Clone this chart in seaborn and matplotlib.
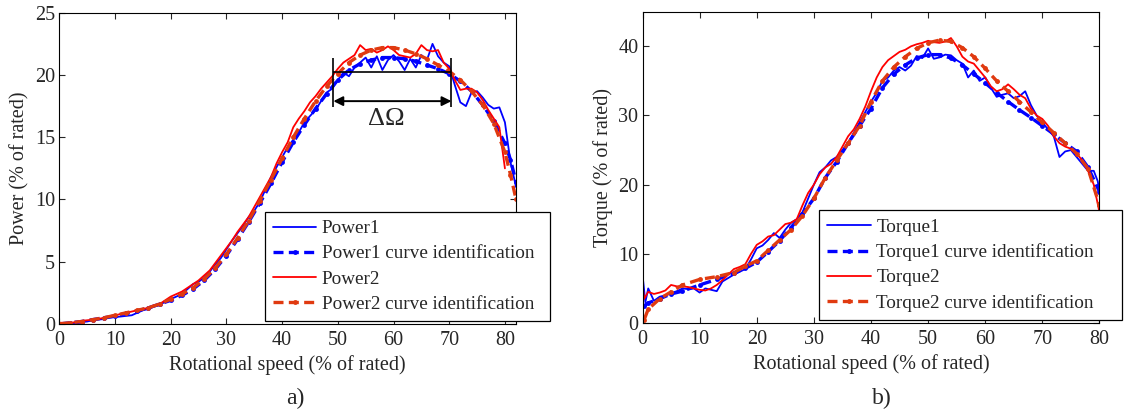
import numpy as np
import pandas as pd
import matplotlib
matplotlib.use('Agg')
import matplotlib.pyplot as plt
import seaborn as sns

# ---- panel a) power ----
speed_p = list(range(0, 83))
power1 = [0.1, 0.05, 0.0, 0.0, 0.15, 0.2, 0.3, 0.35, 0.4, 0.5,
          0.55, 0.6, 0.65, 0.7, 0.9, 1.1, 1.2, 1.4, 1.5, 1.8,
          2.0, 2.2, 2.4, 2.8, 3.2, 3.4, 3.7, 4.2, 4.8, 5.3,
          6.0, 6.7, 7.3, 7.9, 8.6, 9.1, 9.8, 10.8, 11.8, 12.6,
          13.4, 14.2, 14.8, 15.4, 16.2, 16.7, 17.2, 17.9, 18.6, 18.9,
          19.6, 20.2, 19.9, 20.6, 21.0, 21.4, 20.6, 21.5, 20.4, 21.2,
          21.6, 21.1, 20.4, 21.3, 20.6, 21.6, 21.2, 22.5, 21.5, 21.0,
          20.7, 19.2, 17.8, 17.5, 18.6, 18.7, 18.2, 17.6, 17.3, 17.4,
          16.2, 13.0, 11.0]
speed_p2 = list(range(0, 81))
power2 = [0.1, 0.1, 0.1, 0.15, 0.25, 0.3, 0.35, 0.4, 0.5, 0.6,
          0.7, 0.8, 0.9, 1.0, 1.1, 1.2, 1.3, 1.5, 1.6, 1.9,
          2.2, 2.4, 2.6, 2.9, 3.2, 3.5, 3.9, 4.3, 4.9, 5.5,
          6.1, 6.7, 7.4, 8.0, 8.6, 9.4, 10.2, 11.0, 11.8, 12.9,
          13.8, 14.6, 15.8, 16.5, 17.1, 17.8, 18.3, 18.9, 19.4, 19.9,
          20.5, 21.0, 21.3, 21.6, 22.4, 22.0, 22.1, 21.8, 22.0, 22.3,
          22.0, 21.6, 21.5, 21.4, 21.7, 22.4, 22.0, 21.9, 22.0, 21.0,
          20.5, 19.6, 18.8, 18.9, 18.9, 18.6, 18.0, 17.2, 16.5, 15.8,
          12.5]
speed_fit_p = [0, 2, 4, 6, 8, 10, 12, 14, 16, 18, 20, 22, 24, 26, 28, 30, 32, 34, 36, 38,
               40, 42, 44, 46, 48, 50, 52, 54, 56, 58, 60, 62, 64, 66, 68, 70, 72, 74, 76, 78,
               80, 81, 82]
power1_fit = [0.0, 0.1, 0.2, 0.35, 0.5, 0.65, 0.85, 1.05, 1.3, 1.6, 1.9, 2.3, 2.8, 3.5, 4.4,
              5.5, 6.8, 8.2, 9.7, 11.3, 13.0, 14.6, 16.0, 17.3, 18.5, 19.6, 20.4, 20.9, 21.2,
              21.4, 21.4, 21.3, 21.1, 20.8, 20.5, 20.1, 19.5, 18.7, 17.6, 16.3, 14.5, 13.2, 11.4]
power2_fit = [0.0, 0.1, 0.2, 0.35, 0.5, 0.7, 0.9, 1.1, 1.3, 1.6, 2.0, 2.4, 2.9, 3.6, 4.5,
              5.6, 6.9, 8.3, 9.9, 11.6, 13.3, 15.0, 16.5, 17.9, 19.1, 20.1, 21.0, 21.6, 22.0,
              22.2, 22.2, 22.0, 21.7, 21.3, 20.8, 20.3, 19.6, 18.7, 17.6, 16.1, 13.8, 12.0, 10.0]

# delta omega marker
delta_lo, delta_hi, delta_level, delta_arrow = 49.2, 70.4, 20.26, 17.9

# ---- panel b) torque ----
speed_t1 = [0, 0.5, 1, 2, 3, 4, 5, 6, 7, 8, 9, 10, 11, 12, 13, 14, 15, 16, 17, 18, 19,
            20, 21, 22, 23, 24, 25, 26, 27, 28, 29, 30, 31, 32, 33, 34, 35, 36, 37, 38, 39,
            40, 41, 42, 43, 44, 45, 46, 47, 48, 49, 50, 51, 52, 53, 54, 55, 56, 57, 58, 59,
            60, 61, 62, 63, 64, 65, 66, 67, 68, 69, 70, 71, 72, 73, 74, 75, 76, 77, 78, 79,
            79.7, 80]
torque1 = [7.0, 3.0, 5.0, 3.2, 3.8, 4.0, 4.3, 4.6, 5.0, 4.9, 5.0, 4.4, 5.0, 4.8, 4.6, 6.0,
           6.5, 7.0, 7.4, 7.8, 9.2, 10.8, 11.2, 12.0, 13.0, 12.3, 13.5, 14.5, 15.0, 16.0,
           18.0, 20.0, 21.8, 22.5, 23.5, 24.0, 25.0, 26.0, 27.5, 29.0, 30.5, 32.0, 33.3,
           35.0, 35.5, 36.5, 37.0, 36.5, 37.2, 38.6, 38.3, 39.7, 38.2, 38.4, 38.8, 38.7,
           38.0, 37.5, 35.5, 36.5, 35.0, 35.5, 34.0, 32.7, 33.0, 33.2, 32.5, 32.8, 33.5,
           31.5, 30.0, 29.0, 28.0, 27.0, 24.0, 24.8, 25.0, 24.0, 23.0, 22.0, 22.0, 20.5, 19.0]
speed_t2 = [0, 0.3, 1, 2, 3, 4, 5, 6, 7, 8, 9, 10, 11, 12, 13, 14, 15, 16, 17, 18, 19,
            20, 21, 22, 23, 24, 25, 26, 27, 28, 29, 30, 31, 32, 33, 34, 35, 36, 37, 38, 39,
            40, 41, 42, 43, 44, 45, 46, 47, 48, 49, 50, 51, 52, 53, 54, 55, 56, 57, 58, 59,
            60, 61, 62, 63, 64, 65, 66, 67, 68, 69, 70, 71, 72, 73, 74, 75, 76, 77, 78, 79, 80]
torque2 = [5.5, 3.5, 4.5, 4.2, 4.4, 4.7, 5.5, 5.3, 5.3, 5.2, 5.0, 4.8, 4.7, 5.0, 5.5, 6.2,
           7.0, 7.8, 8.1, 8.5, 10.0, 11.3, 11.8, 12.5, 12.7, 13.5, 14.3, 14.5, 15.0, 17.0,
           18.8, 20.0, 21.5, 22.5, 23.0, 24.0, 25.5, 27.0, 28.0, 29.5, 31.3, 33.5, 35.5,
           37.0, 38.0, 38.6, 39.2, 39.5, 40.0, 40.3, 40.5, 40.8, 40.6, 40.5, 40.7, 41.2,
           40.0, 38.5, 37.8, 37.5, 36.5, 35.5, 34.2, 33.5, 33.8, 34.5, 33.8, 33.0, 32.5,
           31.0, 30.0, 29.5, 28.5, 27.0, 26.0, 25.5, 25.2, 24.5, 23.5, 22.0, 20.0, 16.0]
speed_fit_t = [0.3, 1, 3, 5, 7, 10, 13, 16, 18, 20, 22, 24, 26, 28, 30, 32, 34, 36, 38,
               40, 42, 44, 46, 48, 50, 52, 54, 56, 58, 60, 62, 64, 66, 68, 70, 72, 74, 76,
               78, 80]
torque1_fit = [2.5, 2.9, 3.5, 4.2, 4.6, 5.5, 6.3, 7.2, 7.9, 8.8, 10.3, 11.9, 13.8, 15.8,
               18.0, 21.0, 23.3, 26.0, 28.5, 31.0, 34.0, 36.0, 37.3, 38.3, 38.8, 38.8, 38.3,
               37.3, 36.0, 34.7, 33.3, 32.0, 30.8, 29.7, 28.5, 27.3, 26.0, 24.8, 22.5, 19.0]
torque2_fit = [0.5, 2.0, 3.5, 4.5, 5.5, 6.3, 6.7, 7.3, 8.2, 9.0, 10.5, 12.0, 13.5, 15.5,
               18.0, 21.0, 23.5, 26.0, 28.5, 32.0, 35.0, 37.0, 38.5, 39.7, 40.5, 40.9, 40.7,
               39.8, 38.5, 36.8, 35.0, 33.5, 32.0, 30.5, 29.0, 27.5, 26.0, 24.5, 22.3, 17.0]

sns.set_style('ticks')
plt.rcParams['font.family'] = ['Liberation Serif', 'DejaVu Serif']
plt.rcParams['font.size'] = 13

blue = '#0000FF'
red = '#FF0000'
red_fit = '#E03A10'

fig = plt.figure(figsize=(11.28, 4.15), dpi=100)
ax1 = fig.add_axes([0.0526, 0.2193, 0.4049, 0.750])
ax2 = fig.add_axes([0.5696, 0.2217, 0.4051, 0.750])


def draw(ax, xs, ys, xs2, ys2, xf, yf1, yf2, name):
    sns.lineplot(x=xs, y=ys, ax=ax, color=blue, lw=1.3, sort=False, label=f'{name}1')
    sns.lineplot(x=xf, y=yf1, ax=ax, color=blue, lw=2.4, sort=False, dashes=False,
                 linestyle=(0, (3, 1.6)), marker='.', markersize=7, markeredgewidth=0,
                 label=f'{name}1 curve identification')
    sns.lineplot(x=xs2, y=ys2, ax=ax, color=red, lw=1.3, sort=False, label=f'{name}2')
    sns.lineplot(x=xf, y=yf2, ax=ax, color=red_fit, lw=2.4, sort=False, dashes=False,
                 linestyle=(0, (3, 1.6)), marker='.', markersize=7, markeredgewidth=0,
                 label=f'{name}2 curve identification')


draw(ax1, speed_p, power1, speed_p2, power2, speed_fit_p, power1_fit, power2_fit, 'Power')
draw(ax2, speed_t1, torque1, speed_t2, torque2, speed_fit_t, torque1_fit, torque2_fit, 'Torque')

ax1.set_xlim(0, 82)
ax1.set_ylim(0, 25)
ax1.set_xticks(range(0, 81, 10))
ax1.set_yticks(range(0, 26, 5))
ax1.set_ylabel('Power (% of rated)', labelpad=4, fontsize=14.5)

ax2.set_xlim(0, 80)
ax2.set_ylim(0, 45)
ax2.set_xticks(range(0, 81, 10))
ax2.set_yticks(range(0, 41, 10))
ax2.set_ylabel('Torque (% of rated)', labelpad=4, fontsize=14.5)

for ax in (ax1, ax2):
    ax.set_xlabel('Rotational speed (% of rated)', labelpad=4, fontsize=14.5)
    ax.tick_params(direction='in', top=True, right=True, length=4, labelsize=14.5)
    ax.tick_params(axis='x', pad=5)
    ax.tick_params(axis='y', pad=3)
    for s in ax.spines.values():
        s.set_color('black')
        s.set_linewidth(0.8)

leg_kw = dict(loc='lower left', mode='expand', fontsize=13.8, frameon=True, fancybox=False,
              edgecolor='black', framealpha=1, handlelength=2.25, labelspacing=0.4,
              borderpad=0.42, handletextpad=0.3, borderaxespad=0)
leg1 = ax1.legend(bbox_to_anchor=(0.4504, 0.0106, 0.624, 0.35), **leg_kw)
leg2 = ax2.legend(bbox_to_anchor=(0.387, 0.0096, 0.662, 0.35), **leg_kw)
for leg in (leg1, leg2):
    leg.get_frame().set_linewidth(0.9)

# delta omega annotation
ax1.vlines([delta_lo, delta_hi], 17.4, 21.4, color='black', lw=1.2)
ax1.hlines(delta_level, delta_lo, delta_hi, color='black', lw=1.2)
ax1.annotate('', xy=(delta_lo, delta_arrow), xytext=(delta_hi, delta_arrow),
             arrowprops=dict(arrowstyle='<|-|>', color='black', lw=1.4,
                             mutation_scale=14, shrinkA=0, shrinkB=0))
ax1.text(58.7, 16.5, 'ΔΩ', ha='center', va='center', fontsize=19)

fig.text(0.262, 0.04, 'a)', ha='center', va='center', fontsize=17)
fig.text(0.782, 0.04, 'b)', ha='center', va='center', fontsize=17)

fig.savefig('out.png', dpi=100)
